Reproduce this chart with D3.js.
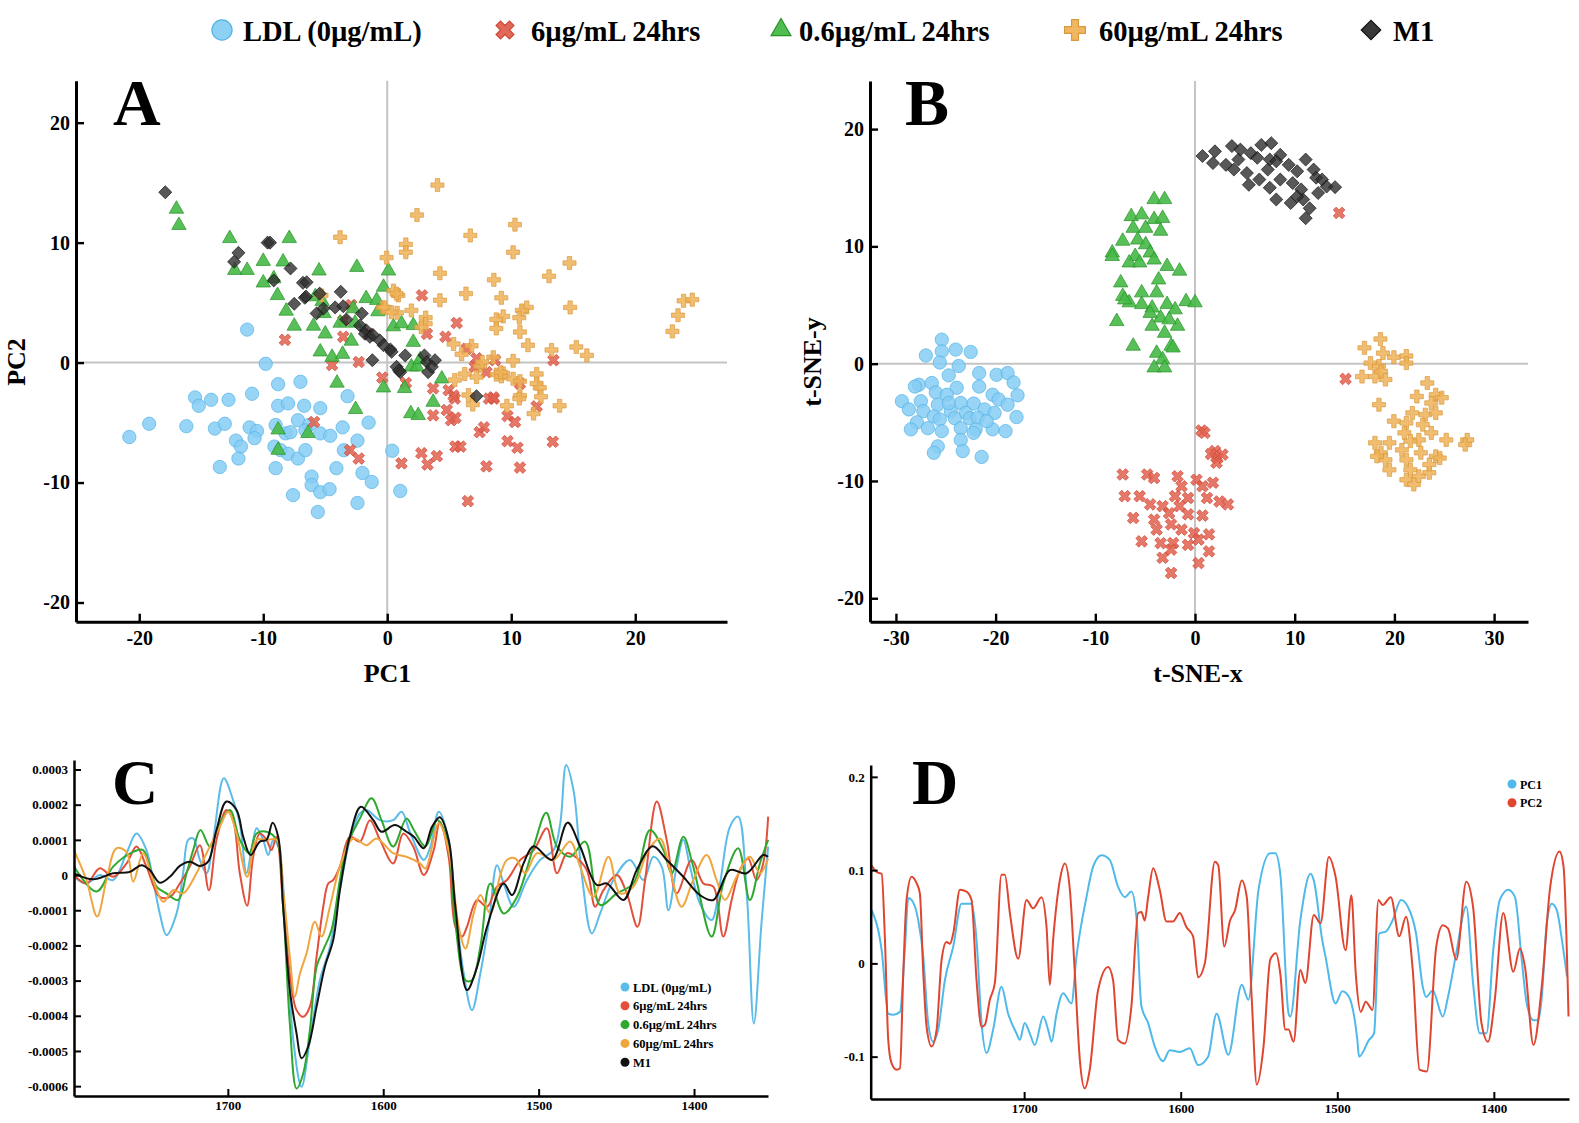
<!DOCTYPE html>
<html>
<head>
<meta charset="utf-8">
<script src="https://cdn.jsdelivr.net/npm/d3@7"></script>
<style>
  body { margin: 0; background: #fff; }
  svg { display: block; }
</style>
</head>
<body>
<svg id="fig" width="1579" height="1123"></svg>
<script>
// group names, same order everywhere
var groups = ["LDL (0µg/mL)", "6µg/mL 24hrs", "0.6µg/mL 24hrs", "60µg/mL 24hrs", "M1"];

// ---- A: PCA scores [PC1, PC2] ----
var pcaLDL = [[-20.8,-6.2],[-19.2,-5.1],[-16.2,-5.3],[-15.5,-2.9],[-15.2,-3.6],[-14.2,-3.1],[-12.8,-3.1],[-13.9,-5.5],[-13.1,-5.1],[-12.2,-6.5],[-11.8,-7.0],[-12.0,-8.0],[-13.5,-8.7],[-11.1,-5.4],[-10.5,-5.7],[-10.7,-6.3],[-10.9,-2.6],[-9.8,-0.1],[-11.3,2.75],[-8.8,-1.8],[-8.8,-3.6],[-8.0,-3.4],[-7.0,-1.6],[-6.7,-3.6],[-5.4,-3.8],[-3.2,-2.8],[-9.0,-5.2],[-9.1,-7.0],[-8.2,-5.9],[-7.2,-4.8],[-6.3,-5.2],[-5.4,-5.9],[-4.6,-6.1],[-3.6,-5.4],[-1.5,-5.0],[-2.4,-6.5],[-3.5,-7.3],[-8.6,-7.3],[-8.0,-7.6],[-7.2,-8.0],[-6.6,-7.3],[-9.0,-8.8],[-6.1,-9.5],[-4.1,-8.8],[-2.0,-9.2],[-1.25,-9.95],[-6.1,-10.2],[-5.4,-10.8],[-4.65,-10.55],[-7.6,-11.05],[-2.4,-11.7],[-5.6,-12.45],[0.4,-7.35],[1.05,-10.7],[-6.6,-5.65],[-7.8,-5.8]];
var pca6 = [[-5.9,-4.95],[-3.0,-7.3],[-2.3,-8.0],[-4.45,-0.2],[-2.3,0.05],[-0.4,-1.25],[1.15,-8.4],[2.75,-7.55],[3.25,-8.5],[4.0,-7.8],[1.5,-1.7],[3.7,-2.15],[4.95,-2.3],[5.15,-4.8],[5.5,-4.6],[5.5,-7.0],[5.9,-7.0],[5.45,-3.0],[7.45,-5.8],[7.8,-5.4],[8.2,-3.0],[8.6,-3.0],[8.0,-8.65],[9.7,-4.45],[10.3,-4.95],[9.7,-6.55],[10.5,-7.1],[10.7,-8.75],[10.7,-1.75],[13.35,-6.6],[6.5,-11.55],[-8.25,1.9],[-3.55,3.5],[-2.9,4.8],[-3.55,2.15],[-1.5,2.4],[2.8,5.6],[5.6,3.3],[4.7,2.15],[3.2,2.4],[6.4,1.15],[7.2,0.35],[8.0,-0.8],[8.55,-2.9],[5.35,-2.75],[7.05,-0.35],[8.7,0.2],[13.4,0.2],[12.05,-3.65],[4.8,-3.95],[3.7,-4.4]];
var pca06 = [[-17.0,12.8],[-16.8,11.45],[-12.7,10.35],[-7.9,10.35],[-12.3,7.7],[-11.3,7.7],[-10.0,8.45],[-8.4,8.4],[-9.15,7.0],[-10.0,6.65],[-8.85,5.6],[-8.15,4.3],[-7.5,3.05],[-5.95,3.05],[-5.5,7.65],[-5.0,2.4],[-5.4,0.9],[-4.45,0.45],[-3.6,0.7],[-2.9,1.8],[-2.45,7.95],[-1.7,5.35],[-0.85,5.2],[-0.3,6.3],[0.1,7.65],[0.5,3.0],[-3.8,3.3],[-5.8,5.5],[-5.1,4.1],[-2.6,3.3],[-2.75,4.5],[-0.75,4.25],[-5.25,5.1],[1.15,3.25],[2.1,3.1],[2.1,1.7],[1.95,-0.35],[2.4,-0.35],[2.65,0.25],[4.4,-1.35],[3.7,-3.3],[-0.3,-2.1],[-4.05,-1.7],[-2.55,-3.9],[1.4,-2.15],[1.9,-4.25],[2.5,-4.4],[-8.8,-5.6],[-6.4,-5.9],[-8.8,-7.3]];
var pca60 = [[4.05,14.8],[2.4,12.3],[6.7,10.6],[10.3,11.5],[10.15,9.2],[1.5,9.85],[1.5,9.2],[-0.05,8.75],[4.25,7.45],[8.6,6.9],[13.05,7.2],[14.7,8.3],[4.25,5.2],[6.35,5.75],[9.2,5.4],[11.25,4.6],[10.85,4.35],[9.35,3.85],[8.8,3.6],[10.65,3.75],[8.8,2.85],[10.7,2.55],[14.75,4.6],[11.35,1.45],[15.25,1.3],[16.1,0.6],[13.25,1.05],[23.9,5.15],[24.6,5.25],[23.45,3.95],[23.0,2.6],[0.5,6.0],[0.9,5.6],[-0.35,4.6],[0.8,4.15],[1.95,4.35],[3.1,3.75],[5.35,1.55],[6.8,1.4],[6.0,0.7],[8.55,0.45],[10.15,0.15],[6.25,-0.95],[9.35,-0.9],[12.05,-0.95],[12.05,-1.75],[7.5,-0.3],[3.1,3.25],[-3.8,10.45],[-5.3,5.6],[-0.2,4.6],[0.75,5.75],[0.35,4.2],[2.75,2.95],[7.2,-1.2],[8.8,-1.0],[10.15,-1.35],[5.45,-1.45],[6.55,-2.7],[9.2,-1.15],[10.7,-2.75],[10.7,-1.55],[12.3,-2.1],[13.9,-3.6],[9.65,-3.6],[6.9,-3.5],[11.8,-4.25],[10.65,-3.0],[12.4,-2.85],[9.15,-0.8],[7.65,0.05]];
var pcaM1 = [[-17.9,14.2],[-12.35,8.4],[-12.0,9.15],[-9.65,10.0],[-9.45,10.0],[-7.8,7.85],[-9.15,6.85],[-6.8,6.65],[-6.5,6.7],[-7.5,4.9],[-6.65,5.4],[-5.45,5.75],[-3.75,5.9],[-4.2,4.6],[-3.55,4.7],[-3.3,3.6],[-2.05,4.1],[-2.2,3.1],[-1.7,2.7],[-1.4,2.15],[-0.6,1.85],[0.25,1.1],[-1.2,0.2],[-5.15,4.5],[-5.7,4.1],[-6.55,5.5],[-1.8,2.4],[-1.15,2.3],[-0.3,1.45],[0.35,0.9],[0.75,-0.35],[1.45,0.6],[1.05,-0.8],[3.0,0.6],[3.2,0.05],[3.85,0.2],[3.3,-0.8],[3.6,-0.35],[7.2,-2.8],[0.95,-0.65]];

// ---- B: t-SNE [x, y] ----
var tsneLDL = [[-25.4,2.05],[-27.0,0.7],[-25.4,1.05],[-24.0,1.2],[-22.5,1.0],[-25.6,0.1],[-23.7,-0.2],[-24.7,-1.0],[-21.65,-0.8],[-19.9,-0.95],[-18.8,-0.8],[-27.7,-1.8],[-28.1,-1.95],[-26.4,-1.65],[-23.9,-2.05],[-21.65,-1.95],[-18.2,-1.6],[-26.0,-2.45],[-24.9,-2.65],[-20.3,-2.65],[-17.8,-2.7],[-29.4,-3.2],[-27.5,-3.2],[-25.8,-3.5],[-23.5,-3.35],[-22.2,-3.4],[-19.7,-3.05],[-18.8,-3.5],[-28.7,-3.9],[-27.25,-4.05],[-24.5,-4.05],[-23.0,-4.2],[-21.1,-3.9],[-20.1,-4.2],[-26.2,-4.5],[-25.6,-4.75],[-24.1,-4.65],[-22.6,-4.65],[-21.8,-4.6],[-17.9,-4.55],[-27.9,-5.0],[-26.8,-5.5],[-25.4,-5.75],[-23.5,-5.5],[-22.0,-5.6],[-20.3,-5.6],[-19.0,-5.75],[-28.5,-5.6],[-22.2,-5.9],[-23.5,-6.5],[-25.8,-7.05],[-26.2,-7.6],[-23.3,-7.45],[-21.4,-7.95],[-24.7,-3.35],[-20.9,-4.9]];
var tsne6 = [[0.65,-5.7],[0.95,-5.9],[2.0,-7.45],[2.25,-8.05],[1.6,-7.7],[2.75,-7.75],[2.15,-8.45],[-7.25,-9.45],[-4.8,-9.45],[-4.1,-9.75],[-1.75,-9.6],[0.15,-9.9],[-1.35,-10.45],[1.8,-10.15],[0.75,-10.45],[-7.05,-11.3],[-5.55,-11.3],[-4.5,-12.0],[-3.25,-12.15],[-2.0,-11.3],[-0.7,-11.45],[1.2,-11.45],[2.45,-11.75],[3.3,-12.0],[-1.55,-12.15],[-0.7,-12.85],[0.75,-12.95],[-6.2,-13.15],[-4.1,-13.3],[-2.4,-13.7],[-3.85,-14.15],[-1.35,-14.15],[-0.1,-14.45],[1.4,-14.55],[-5.35,-15.15],[-3.45,-15.3],[-2.2,-15.3],[-0.7,-15.45],[0.35,-15.0],[-2.4,-15.85],[1.4,-16.0],[-3.25,-16.55],[0.35,-17.0],[-2.4,-17.85],[-2.6,-12.75],[15.1,-1.3],[14.45,12.85]];
var tsne06 = [[-4.1,14.0],[-3.05,14.0],[-6.4,12.55],[-5.35,12.7],[-4.1,12.3],[-3.25,12.4],[-6.2,11.55],[-4.95,11.55],[-3.45,11.3],[-7.25,10.45],[-5.75,10.55],[-4.95,10.15],[-8.3,9.45],[-6.0,9.15],[-4.5,9.45],[-6.6,8.6],[-5.55,8.6],[-4.1,8.85],[-2.8,8.3],[-1.55,7.9],[-3.65,7.15],[-7.45,6.9],[-5.35,6.05],[-3.85,6.05],[-7.25,5.75],[-6.6,5.2],[-5.35,5.05],[-4.3,4.75],[-2.8,5.05],[-2.0,4.6],[-0.9,5.3],[0.0,5.2],[-7.85,3.6],[-3.45,3.9],[-1.75,3.2],[-4.3,3.2],[-3.05,2.6],[-6.2,1.5],[-3.85,0.9],[-2.4,1.5],[-3.25,0.35],[-4.1,-0.35],[-3.05,-0.35],[-2.2,1.35],[-8.3,9.15],[-7.05,5.45],[-4.5,4.3],[-2.6,3.75]];
var tsne60 = [[18.6,2.1],[17.0,1.35],[18.85,0.9],[19.95,0.55],[21.2,0.65],[17.6,0.05],[18.45,-0.2],[21.2,0.05],[16.75,-1.1],[18.05,-1.1],[19.1,-1.35],[18.65,-0.65],[23.3,-1.65],[22.25,-2.8],[24.15,-2.65],[24.75,-2.9],[18.45,-3.5],[23.7,-3.35],[21.8,-4.2],[23.1,-4.35],[24.15,-4.2],[19.95,-4.9],[21.2,-5.05],[22.85,-5.2],[21.0,-5.9],[23.7,-5.9],[22.45,-6.5],[25.2,-6.5],[18.05,-6.75],[19.5,-6.75],[21.6,-6.6],[27.3,-6.5],[27.1,-6.9],[18.65,-7.6],[20.75,-7.35],[22.65,-7.6],[24.15,-7.9],[19.1,-8.2],[21.2,-8.2],[24.55,-8.05],[19.5,-9.05],[21.6,-9.05],[23.5,-9.3],[21.2,-9.9],[22.45,-9.6],[21.95,-10.3],[23.5,-8.6],[18.25,-7.9]];
var tsneM1 = [[0.75,17.7],[2.0,18.1],[1.8,17.1],[3.7,18.55],[4.55,18.25],[5.6,17.95],[6.65,18.65],[7.65,18.8],[6.25,17.55],[7.5,17.4],[8.55,17.8],[3.1,16.95],[4.35,17.4],[3.9,16.55],[5.2,16.25],[5.4,15.25],[7.3,16.55],[8.15,17.25],[9.4,16.95],[11.1,17.4],[10.25,16.4],[11.9,16.55],[8.55,15.7],[7.5,15.0],[9.8,15.4],[10.65,14.85],[12.15,15.85],[12.75,15.7],[13.2,15.1],[14.05,15.05],[12.35,14.55],[8.15,14.0],[9.6,13.7],[10.85,14.0],[11.5,13.25],[11.1,12.4],[10.25,14.25],[6.45,15.7]];

// ---- C: mean 2nd-derivative spectra [wavenumber, value x 1e-4] ----
var specUnit = 1e-4;
var specLDL = [[1799,-0.05],[1791,-0.24],[1782.4,0],[1773.8,-0.14],[1765.2,0.62],[1758.8,1.18],[1752.4,0.71],[1748.1,-0.14],[1743.8,-1.09],[1739.5,-1.71],[1733,-1.09],[1728.8,0.05],[1725.5,1.0],[1722.3,1.04],[1718,0.43],[1713.7,0.05],[1709.4,1.0],[1702.6,2.75],[1696.6,2.13],[1692.3,1.47],[1688,0.05],[1684.8,0.71],[1681.5,1.33],[1677.3,1.0],[1674,0.57],[1670.8,1.0],[1667.6,0.81],[1662.2,-1.85],[1657.9,-4.69],[1652.6,-6.02],[1647.2,-4.69],[1640.8,-2.99],[1634.3,-2.04],[1627.9,-0.43],[1621.5,1.0],[1615,1.75],[1610.7,1.85],[1602.1,1.56],[1593.6,1.56],[1588.2,1.80],[1582.5,1.18],[1573.9,0.43],[1569.6,0.81],[1564.3,1.80],[1557.9,1.0],[1553.6,-0.90],[1548.2,-2.80],[1542.9,-3.84],[1537.5,-2.80],[1532.1,-1.37],[1526.8,0.28],[1522.5,-0.24],[1516.1,-0.90],[1507.5,-0.14],[1499,0.43],[1490.4,0.71],[1486.1,1.47],[1482.3,3.13],[1477.6,2.42],[1472.2,0],[1465.8,-1.66],[1460.4,-1.09],[1451.9,-0.14],[1441.2,0.43],[1432.6,-0.14],[1426.2,0.52],[1420.8,0.24],[1416.5,-1.0],[1411.2,0.24],[1406.9,1.0],[1402.6,0.24],[1396.2,-0.81],[1388.7,-1.28],[1383.3,-0.24],[1376.9,1.37],[1371.6,1.66],[1366.2,-0.43],[1361.5,-4.22],[1356.6,-1.37],[1352.3,0.81]];
var spec6 = [[1799,0],[1791,-0.24],[1782.4,0.19],[1773.8,-0.05],[1765.2,0.33],[1758.8,0.81],[1752.4,0.24],[1743.8,-0.62],[1737.3,-0.62],[1730.9,-0.24],[1724.5,0.24],[1718,0.85],[1712.2,-0.43],[1707.3,1.0],[1700.9,1.85],[1696.6,1.56],[1692.3,0.05],[1687.6,-0.87],[1683.7,0.52],[1679.4,1.18],[1675.1,1.0],[1671.9,0.71],[1668.7,1.09],[1664.4,-0.90],[1660.1,-2.80],[1655.8,-3.84],[1651.5,-4.03],[1647.2,-3.74],[1642.9,-2.32],[1638.6,-0.90],[1635.4,-0.24],[1632.2,-0.14],[1627.9,0.24],[1621.5,1.09],[1615,0.95],[1608.6,1.56],[1602.1,1.0],[1593.6,0.33],[1587.1,1.18],[1580.7,0.81],[1573.9,0],[1567.5,0.71],[1563.6,1.52],[1557.9,0.52],[1553.6,-1.47],[1549.3,-1.75],[1546.1,-1.47],[1539.6,-0.71],[1533.2,-0.90],[1526.8,-0.33],[1520.4,-0.14],[1511.8,0.43],[1503.2,0.71],[1494.7,1.33],[1488.2,0.05],[1481.8,0.62],[1476.5,0.52],[1469,0.14],[1463.6,-0.90],[1458.3,-0.43],[1449.7,0],[1443.3,-0.52],[1436.4,-1.47],[1431.5,-0.14],[1424,2.09],[1417.6,1.0],[1411.2,-0.52],[1401.5,0.43],[1394,-0.24],[1387.6,-0.33],[1381.2,-1.75],[1375.8,-0.71],[1370.5,0.14],[1365.2,0.47],[1359.8,-0.14],[1355.5,0.33],[1352.3,1.66]];
var spec06 = [[1799,0.24],[1784.5,-0.47],[1773.8,0.24],[1760.9,0.66],[1754.5,0.71],[1745.9,-0.33],[1739.5,-0.52],[1732,-0.71],[1726.6,0.05],[1722.3,0.71],[1717.6,1.28],[1711.6,0.81],[1705.2,1.47],[1698.7,1.85],[1692.3,1.0],[1686.3,0.62],[1681.5,1.18],[1675.1,1.23],[1668.7,1.0],[1664.4,-0.90],[1660.1,-4.22],[1655.8,-6.07],[1651.5,-5.64],[1647.2,-4.41],[1642.9,-2.61],[1638.6,-2.13],[1633.3,-1.56],[1627.9,-0.14],[1623.6,0.81],[1615,1.61],[1607.5,2.18],[1601.1,1.56],[1593.6,0.81],[1585,1.61],[1580.3,1.28],[1572.8,0.81],[1565.3,1.56],[1558.9,1.0],[1553.6,-1.37],[1547.1,-2.99],[1542.9,-2.99],[1537.5,-2.04],[1531.1,-0.24],[1522.5,-1.09],[1513.9,-0.62],[1503.2,0.81],[1495.1,1.77],[1488.2,0.81],[1479.7,0.52],[1470.1,0.95],[1460.4,-0.85],[1449.7,-0.52],[1439,-0.24],[1428.3,1.28],[1419.7,0.71],[1414.4,0.05],[1406.9,1.09],[1400.5,0.24],[1388.7,-1.75],[1381.2,-0.24],[1371.6,0.76],[1364.1,-0.71],[1357.6,0.33],[1352.3,1.0]];
var spec60 = [[1799,0.71],[1791,-0.14],[1784.1,-1.18],[1778.1,-0.14],[1771.7,0.76],[1765.2,0.66],[1760.9,-0.19],[1754.5,0.62],[1748.1,-0.14],[1741.6,-0.76],[1735.2,-0.43],[1728.8,-0.52],[1720.2,0.05],[1713.7,0.62],[1705.2,1.37],[1699.8,1.80],[1694.4,1.18],[1687.6,-0.05],[1681.5,1.0],[1675.1,1.0],[1668.7,1.0],[1664.4,-0.43],[1660.1,-2.32],[1656.9,-3.46],[1653.6,-2.80],[1649.4,-2.23],[1644,-1.33],[1639.7,-1.75],[1634.3,-0.90],[1627.9,0.24],[1619.3,1.04],[1610.7,0.85],[1604.3,1.04],[1593.6,0.62],[1585,0.52],[1576.4,0.33],[1572.8,0.19],[1564.3,1.47],[1557.9,0.71],[1551.4,-1.47],[1547.1,-2.09],[1541.8,-1.09],[1537.5,-0.57],[1531.1,-1.09],[1524.7,0],[1520.4,0.43],[1515,0.47],[1508.6,0.05],[1501.1,0.62],[1490.4,0.43],[1479.7,0.95],[1473.3,0.24],[1464.7,-0.62],[1455.1,0.52],[1447.6,-0.52],[1439,-0.33],[1429.4,0.71],[1421.9,1.04],[1415.5,0.14],[1408,-0.90],[1400.5,-0.14],[1391.9,0.57],[1385.5,-0.14],[1380.1,-0.71],[1372.6,-0.05],[1364.1,0.52],[1357.6,0.05],[1352.3,0.47]];
var specM1 = [[1799,0.05],[1786.7,-0.12],[1773.8,0.05],[1763.1,0.09],[1755.6,0.28],[1750.2,0.14],[1743.8,-0.22],[1737.3,-0.05],[1730.9,0.26],[1724.5,0.38],[1718,0.26],[1712.7,0.38],[1707.3,1.28],[1700.9,2.09],[1694.4,1.85],[1690.1,1.09],[1685.4,0.57],[1679.4,0.95],[1675.1,1.0],[1671.2,1.49],[1667.6,1.09],[1664.4,-0.90],[1660.1,-3.27],[1655.8,-4.50],[1652.6,-5.21],[1648.3,-4.88],[1642.9,-3.74],[1637.6,-2.61],[1632.2,-1.85],[1627.9,-0.43],[1621.5,1.09],[1614.4,1.94],[1606.4,1.56],[1601.1,1.23],[1592.5,1.42],[1585,1.23],[1580.3,1.09],[1573.9,0.76],[1568.6,1.37],[1563.6,1.64],[1557.9,1.0],[1553.6,-0.90],[1546.1,-3.27],[1539.6,-2.61],[1533.2,-1.47],[1522.5,-0.24],[1517.1,-0.57],[1509.7,0.33],[1503.2,0.82],[1491.4,0.43],[1481.4,1.49],[1473.3,0.81],[1462.6,-0.28],[1456.1,-0.24],[1445.4,-0.71],[1436.9,0.14],[1426.6,0.82],[1417.6,0.43],[1406.9,-0.05],[1396.2,-0.57],[1387.6,-0.71],[1376.9,0.14],[1366.2,0.05],[1355.5,0.57],[1352.3,0.52]];

// ---- D: PC loadings [wavenumber, value x 0.01] ----
var loadUnit = 0.01;
var loadPC1 = [[1797.4,5.7],[1791,1.4],[1786.8,-5.4],[1783.6,-5.5],[1779.3,-5.2],[1776.1,1.8],[1774,7.0],[1771.9,6.8],[1767.6,4.6],[1764.4,0.7],[1761.3,-6.4],[1758.1,-8.4],[1754.9,-7.1],[1750.6,-1.8],[1745.3,1.8],[1740,6.4],[1733.6,6.4],[1730.4,2.5],[1727.2,-6.4],[1724,-9.6],[1719.8,-7.1],[1714.5,-2.5],[1710.2,-5.4],[1704.9,-7.5],[1702.8,-8.2],[1699.6,-6.4],[1696.4,-7.5],[1693.2,-8.75],[1687.8,-5.7],[1684.7,-7.1],[1682.5,-8.4],[1679.3,-5.4],[1675.1,-3.2],[1669.8,-4.3],[1666.6,0.7],[1660.2,7.1],[1655.9,10.4],[1650.6,11.6],[1645.3,11.1],[1640,8.2],[1635.7,7.1],[1631.5,7.7],[1628.3,5.0],[1625.1,-4.6],[1620.8,-6.4],[1616.6,-8.9],[1611.3,-10.5],[1607,-9.3],[1600.6,-9.5],[1594.2,-9.1],[1588.9,-10.9],[1582.5,-10.0],[1577.1,-5.4],[1569.6,-9.8],[1561,-2.3],[1556.8,-3.9],[1550.3,7.9],[1542.8,11.8],[1539.6,11.8],[1536.4,9.6],[1531.1,-5.4],[1530,-5.7],[1523.6,4.6],[1517.1,9.6],[1515,8.9],[1509.6,2.5],[1507.5,0.7],[1501.1,-4.3],[1496.8,-3.0],[1492.5,-3.6],[1487.2,-8.2],[1486.1,-10.0],[1479.7,-8.2],[1476.5,-7.5],[1473.3,3.2],[1469,3.4],[1464.7,4.6],[1459.3,6.8],[1455,6.1],[1449.7,3.2],[1445.4,-2.5],[1443.3,-3.6],[1439,-2.9],[1432.6,-5.7],[1429.3,-3.6],[1424,1.1],[1417.6,6.1],[1413.3,-2.1],[1409,-7.5],[1404.7,-7.5],[1400.4,1.4],[1396.2,6.8],[1390.8,7.9],[1386.5,7.1],[1382.2,0.4],[1379,-4.3],[1374.7,-6.1],[1371.5,-6.1],[1369.4,-3.6],[1366.2,4.3],[1363,6.4],[1359.8,5.7],[1356.5,2.5],[1353.3,-1.4]];
var loadPC2 = [[1797.4,10.5],[1794.2,9.8],[1791,9.6],[1788.9,2.5],[1786.8,-8.2],[1784.7,-10.7],[1781.5,-11.4],[1779.3,-11.25],[1777.2,-1.1],[1775.1,6.8],[1771.9,9.3],[1768.7,8.6],[1766.6,7.5],[1764.4,-1.1],[1762.3,-6.8],[1759.1,-8.9],[1755.9,-7.1],[1752.7,0.4],[1749.6,2.3],[1747.4,2.1],[1745.3,3.2],[1741,7.9],[1736.8,7.7],[1733.6,6.8],[1730.4,-1.8],[1727.2,-6.8],[1725.1,-6.6],[1721.9,-3.9],[1718.7,-2.1],[1714.5,9.5],[1712.3,9.5],[1709.1,5.4],[1703.8,0.5],[1698.5,6.8],[1694.2,5.9],[1688.9,7.1],[1685.7,3.9],[1683.6,-2.3],[1681.5,2.5],[1677.2,8.9],[1674,10.7],[1670.8,7.9],[1667.6,-1.1],[1664.4,-10.4],[1661.3,-13.4],[1658.1,-11.4],[1652.8,-2.9],[1646.4,-0.4],[1643.2,-1.8],[1640,-8.2],[1635.7,-8.6],[1631.5,-4.6],[1627.2,5.4],[1625.1,5.5],[1623,4.6],[1620.8,7.1],[1617.6,10.2],[1613.4,7.9],[1609.1,4.5],[1604.9,4.5],[1600.6,5.4],[1596.4,3.9],[1592.1,2.9],[1588.9,-1.5],[1584.6,0],[1578.2,10.9],[1576,10.5],[1572.2,1.8],[1568.5,4.6],[1565.3,5.7],[1561,8.9],[1557.8,7.1],[1554.6,-3.9],[1551.4,-13.0],[1547.1,-8.9],[1542.8,0.4],[1539.2,1.1],[1536.4,-1.1],[1533.2,-7.1],[1531.1,-7.1],[1527.9,-8.4],[1523.6,-0.7],[1520.4,-2.1],[1515,5.2],[1510.7,4.3],[1505.4,11.4],[1501.1,9.3],[1494.7,1.4],[1491,7.3],[1488.2,-1.1],[1485,-5.2],[1481.8,-4.1],[1477.5,-5.0],[1473.7,6.8],[1471.1,6.25],[1465.8,7.1],[1460.4,2.9],[1456.1,5.0],[1451.8,-0.7],[1447.5,-11.4],[1442.8,-11.6],[1436.8,1.8],[1432.6,4.1],[1429.3,3.75],[1424,0.4],[1417.6,8.75],[1413.3,6.1],[1407.9,-6.4],[1403.7,-8.4],[1399.4,-3.9],[1394,5.4],[1387.6,-0.9],[1383.3,1.6],[1380.1,-0.4],[1374.7,-8.75],[1369.4,-2.5],[1364,8.2],[1358,12.0],[1355.5,10.4],[1352.3,-5.7]];

// ---------------------------------------------------------------
var serif = "'Liberation Serif', 'Times New Roman', serif";
var colors = ["#5bbbe9", "#e2503c", "#2ea82e", "#f0a63f", "#111111"];
var marks = [
    {shape: "circle",   fill: "#86cdf3", stroke: "#52b2e6", op: 0.85, size: 140},
    {shape: "x",        fill: "#e0604e", stroke: "#cf4a38", op: 0.85, size: 85},
    {shape: "triangle", fill: "#47b947", stroke: "#279427", op: 0.9,  size: 90},
    {shape: "plus",     fill: "#efb257", stroke: "#d9993d", op: 0.85, size: 95},
    {shape: "diamond",  fill: "#2e2e2e", stroke: "#111111", op: 0.8,  size: 85}
];

var svg = d3.select("#fig");
svg.append("rect").attr("width", 1579).attr("height", 1123).attr("fill", "#fff");

function symbolPath(shape, size) {
    var t = {circle: d3.symbolCircle, x: d3.symbolCross, triangle: d3.symbolTriangle,
             plus: d3.symbolCross, diamond: d3.symbolSquare}[shape];
    return d3.symbol().type(t).size(size)();
}
function symbolRot(shape) {
    return (shape === "x" || shape === "diamond") ? " rotate(45)" : "";
}
// plain hyphen for negative tick labels, as in the figure
function hyphen(d) { return String(d); }

function styleAxis(g, fs, sw) {
    g.attr("font-family", serif).attr("font-size", fs).attr("font-weight", "bold");
    g.select(".domain").attr("stroke", "#000").attr("stroke-width", sw);
    g.selectAll(".tick line").attr("stroke", "#000").attr("stroke-width", sw * 0.8);
    g.selectAll(".tick text").attr("fill", "#000");
}

function scatterPanel(opt) {
    var x = d3.scaleLinear().domain(opt.xDomain).range(opt.xRange);
    var y = d3.scaleLinear().domain(opt.yDomain).range(opt.yRange);
    var g = svg.append("g");

    // zero lines
    g.append("line").attr("x1", x(0)).attr("x2", x(0))
        .attr("y1", opt.yRange[1]).attr("y2", opt.yRange[0])
        .attr("stroke", "#c4c4c4").attr("stroke-width", 2);
    g.append("line").attr("x1", opt.xRange[0]).attr("x2", opt.xRange[1])
        .attr("y1", y(0)).attr("y2", y(0))
        .attr("stroke", "#c4c4c4").attr("stroke-width", 2);

    opt.sets.forEach(function (pts, i) {
        var m = marks[i];
        g.append("g").selectAll("path")
            .data(pts)
            .enter().append("path")
            .attr("d", symbolPath(m.shape, m.size))
            .attr("transform", function (d) {
                return "translate(" + x(d[0]) + "," + y(d[1]) + ")" + symbolRot(m.shape);
            })
            .attr("fill", m.fill).attr("fill-opacity", m.op)
            .attr("stroke", m.stroke).attr("stroke-width", 0.8).attr("stroke-opacity", m.op);
    });

    var gx = g.append("g")
        .attr("transform", "translate(0," + opt.yRange[0] + ")")
        .call(d3.axisBottom(x).tickValues(opt.xTicks).tickFormat(hyphen)
            .tickSizeInner(-8).tickSizeOuter(0).tickPadding(9));
    styleAxis(gx, 20, 3);
    var gy = g.append("g")
        .attr("transform", "translate(" + opt.xRange[0] + ",0)")
        .call(d3.axisLeft(y).tickValues(opt.yTicks).tickFormat(hyphen)
            .tickSizeInner(-8).tickSizeOuter(0).tickPadding(6));
    styleAxis(gy, 20, 3);

    svg.append("text").attr("x", (opt.xRange[0] + opt.xRange[1]) / 2 + opt.xLabelShift).attr("y", 682)
        .attr("text-anchor", "middle").attr("font-family", serif).attr("font-weight", "bold")
        .attr("font-size", 26).text(opt.xLabel);
    svg.append("text")
        .attr("transform", "translate(" + opt.yLabelX + ",362) rotate(-90)")
        .attr("text-anchor", "middle").attr("font-family", serif).attr("font-weight", "bold")
        .attr("font-size", 26).text(opt.yLabel);
    svg.append("text").attr("x", opt.letterX).attr("y", 125)
        .attr("font-family", serif).attr("font-weight", "bold").attr("font-size", 66).text(opt.letter);
}

scatterPanel({
    sets: [pcaLDL, pca6, pca06, pca60, pcaM1],
    xDomain: [-25.1, 27.4], xRange: [76, 727],
    yDomain: [-21.6, 23.5], yRange: [621.7, 80.7],
    xTicks: [-20, -10, 0, 10, 20], yTicks: [-20, -10, 0, 10, 20],
    xLabel: "PC1", yLabel: "PC2", xLabelShift: -14, yLabelX: 25,
    letter: "A", letterX: 113
});
scatterPanel({
    sets: [tsneLDL, tsne6, tsne06, tsne60, tsneM1],
    xDomain: [-32.6, 33.4], xRange: [870, 1528],
    yDomain: [-22.0, 24.1], yRange: [621.7, 81],
    xTicks: [-30, -20, -10, 0, 10, 20, 30], yTicks: [-20, -10, 0, 10, 20],
    xLabel: "t-SNE-x", yLabel: "t-SNE-y", xLabelShift: -1, yLabelX: 821,
    letter: "B", letterX: 905
});

// ---- top legend ----
var legendX = [222, 505, 781, 1075, 1371];
var legendTextX = [243, 531, 799, 1099, 1393];
var legendSizes = [320, 200, 170, 240, 190];
groups.forEach(function (name, i) {
    var m = marks[i];
    svg.append("path").attr("d", symbolPath(m.shape, legendSizes[i]))
        .attr("transform", "translate(" + legendX[i] + ",30)" + symbolRot(m.shape))
        .attr("fill", m.fill).attr("stroke", m.stroke).attr("stroke-width", 1.2)
        .attr("fill-opacity", 0.95);
    svg.append("text").attr("x", legendTextX[i]).attr("y", 41)
        .attr("font-family", serif).attr("font-weight", "bold").attr("font-size", 28.5)
        .text(name);
});

// ---- line panels ----
function linePanel(opt) {
    var x = d3.scaleLinear().domain(opt.xDomain).range(opt.xRange);
    var y = d3.scaleLinear().domain(opt.yDomain).range(opt.yRange);
    var g = svg.append("g");
    var line = d3.line()
        .x(function (d) { return x(d[0]); })
        .y(function (d) { return y(d[1] * opt.unit); })
        .curve(opt.curve);

    opt.series.forEach(function (s, i) {
        g.append("path").datum(s).attr("d", line)
            .attr("fill", "none").attr("stroke", opt.colors[i])
            .attr("stroke-width", 2).attr("stroke-linejoin", "round");
    });

    var gx = g.append("g")
        .attr("transform", "translate(0," + opt.yRange[0] + ")")
        .call(d3.axisBottom(x).tickValues([1700, 1600, 1500, 1400]).tickFormat(d3.format("d"))
            .tickSizeInner(-7).tickSizeOuter(0).tickPadding(5));
    styleAxis(gx, 13, 2.5);
    var gy = g.append("g")
        .attr("transform", "translate(" + opt.xRange[0] + ",0)")
        .call(d3.axisLeft(y).tickValues(opt.yTicks).tickFormat(opt.yFormat)
            .tickSizeInner(-7).tickSizeOuter(0).tickPadding(6));
    styleAxis(gy, 13, 2.5);

    var lg = svg.append("g").attr("font-family", serif).attr("font-weight", "bold").attr("font-size", opt.legendFont);
    opt.names.forEach(function (n, i) {
        var yy = opt.legendY + i * opt.legendStep;
        lg.append("circle").attr("cx", opt.legendX).attr("cy", yy).attr("r", 4.5).attr("fill", opt.colors[i]);
        lg.append("text").attr("x", opt.legendX + 8).attr("y", yy + 4.5).text(n);
    });

    svg.append("text").attr("x", opt.letterX).attr("y", 804)
        .attr("font-family", serif).attr("font-weight", "bold").attr("font-size", 64).text(opt.letter);
}

var specTicks = [-6, -5, -4, -3, -2, -1, 0, 1, 2, 3].map(function (v) { return v * specUnit; });
linePanel({
    series: [specLDL, spec6, spec06, spec60, specM1],
    colors: colors, names: groups, unit: specUnit,
    xDomain: [1799, 1352.4], xRange: [74, 768],
    yDomain: [-6.28 * specUnit, 3.27 * specUnit], yRange: [1096, 760],
    yTicks: specTicks,
    yFormat: function (d) { return Math.abs(d) < 1e-12 ? "0" : d.toFixed(4); },
    curve: d3.curveCatmullRom.alpha(0.5),
    legendX: 625, legendY: 987, legendStep: 18.8, legendFont: 12.5,
    letter: "C", letterX: 112
});

var loadTicks = [-0.1, 0, 0.1, 0.2];
linePanel({
    series: [loadPC1, loadPC2],
    colors: ["#4fb9ea", "#e0452f"], names: ["PC1", "PC2"], unit: loadUnit,
    xDomain: [1798, 1352], xRange: [870.7, 1569],
    yDomain: [-0.1454, 0.2127], yRange: [1099, 765],
    yTicks: loadTicks,
    yFormat: function (d) { return Math.abs(d) < 1e-12 ? "0" : d.toFixed(1); },
    curve: d3.curveMonotoneX,
    legendX: 1512, legendY: 784, legendStep: 18.7, legendFont: 12,
    letter: "D", letterX: 912
});
</script>
</body>
</html>
